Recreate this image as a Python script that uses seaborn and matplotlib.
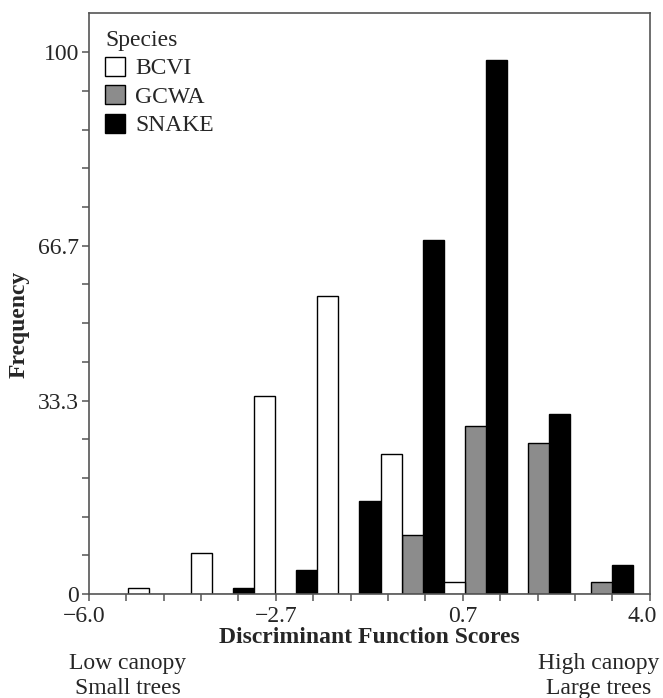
import numpy as np
import pandas as pd
import seaborn as sns
import matplotlib.pyplot as plt
from matplotlib.transforms import ScaledTranslation

# histogram of discriminant function scores, one bar per species in each bin
species = ['BCVI', 'GCWA', 'SNAKE']
bin_edges = [-5.3, -4.175, -3.05, -1.925, -0.8, 0.325, 1.45, 2.575, 3.7]
bin_centers = [-4.7375, -3.6125, -2.4875, -1.3625, -0.2375, 0.8875, 2.0125, 3.1375]
bcvi = [1.1, 7.5, 36.5, 55, 25.8, 2.2, 0, 0]
gcwa = [0, 0, 0, 0, 10.8, 31, 27.9, 2.2]
snake = [0, 1.1, 4.4, 17.2, 65.4, 98.6, 33.3, 5.4]

x_labels = {0: '\u22126.0', 5: '\u22122.7', 10: '0.7', 15: '4.0'}
# the original axis puts its labels on ticks 0, 5, 9 and 14 of 14 intervals
y_labels = {0: '0', 5: '33.3', 9: '66.7', 14: '100'}

df = pd.DataFrame({
    'Species': np.repeat(species, len(bin_centers)),
    'Score': bin_centers * 3,
    'Frequency': bcvi + gcwa + snake,
})

sns.set_theme(style='ticks')
plt.rcParams['font.family'] = ['Liberation Serif', 'DejaVu Serif']

colors = {'BCVI': 'white', 'GCWA': '#8c8c8c', 'SNAKE': 'black'}
axis_col = '#555555'

fig = plt.figure(figsize=(6.63, 6.98), dpi=100)
ax = fig.add_axes([0.134, 0.149, 0.846, 0.832])
sns.histplot(data=df, x='Score', weights='Frequency', hue='Species', hue_order=species,
             bins=bin_edges, multiple='dodge', shrink=1, palette=colors, alpha=1,
             edgecolor='black', linewidth=1, ax=ax)

ax.set_xlim(-6, 4)
ax.set_ylim(0, 107.2)

xt = [-6 + k * 2 / 3 for k in range(16)]
ax.set_xticks(xt)
ax.set_xticklabels([x_labels.get(k, '') for k in range(16)])
yt = [k * 100 / 14 for k in range(15)]
ax.set_yticks(yt)
ax.set_yticklabels([y_labels.get(k, '') for k in range(15)])
ax.tick_params(axis='both', direction='out', length=5, width=1.1, color=axis_col,
               labelsize=17)
ax.tick_params(axis='y', pad=2)
ax.tick_params(axis='x', pad=4)

# nudge the end labels a little inwards like the original
xtl = ax.get_xticklabels()
xtl[0].set_transform(xtl[0].get_transform() + ScaledTranslation(-5 / 100, 0, fig.dpi_scale_trans))
xtl[-1].set_transform(xtl[-1].get_transform() + ScaledTranslation(-8 / 100, 0, fig.dpi_scale_trans))

for s in ax.spines.values():
    s.set_color(axis_col)
    s.set_linewidth(1.2)

ax.set_xlabel('Discriminant Function Scores', fontsize=17, fontweight='bold', labelpad=0)
ax.set_ylabel('Frequency', fontsize=17, fontweight='bold')
ax.yaxis.set_label_coords(-0.105, 0.465)

sns.move_legend(ax, 'upper left', bbox_to_anchor=(0.0, 1.0), frameon=False,
                title='Species', title_fontsize=17, fontsize=17, alignment='left',
                handlelength=0.85, handleheight=0.85, handletextpad=0.4,
                labelspacing=0.25, borderaxespad=0.3, borderpad=0.4)

fig.text(0.193, 0.050, 'Low canopy', ha='center', va='center', fontsize=17)
fig.text(0.193, 0.014, 'Small trees', ha='center', va='center', fontsize=17)
fig.text(0.903, 0.050, 'High canopy', ha='center', va='center', fontsize=17)
fig.text(0.903, 0.014, 'Large trees', ha='center', va='center', fontsize=17)

fig.savefig('out.png', dpi=100)
